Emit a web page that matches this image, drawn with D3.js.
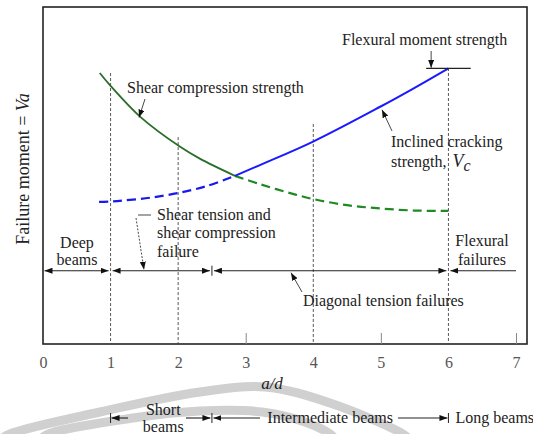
<!DOCTYPE html>
<html><head><meta charset="utf-8">
<script src="https://cdn.jsdelivr.net/npm/d3@7"></script>
<style>
body{margin:0;background:#fff}
svg{display:block}
text{font-family:"Liberation Serif","Times New Roman",serif;fill:#222}
</style>
</head><body>
<svg id="c" width="533" height="434"></svg>
<script>
// ---------- data ----------
const xTicks = [0, 1, 2, 3, 4, 5, 6, 7];
const minorTicks = [3, 5, 7];
// Shear compression strength (solid green)
const shearCompAD = [0.84, 1.0, 1.44, 2.03, 2.32, 2.84];
const shearCompV  = [80.4, 76.6, 67.4, 58.5, 55.0, 49.9];
// Shear compression strength continued (dashed green)
const shearCompDashAD = [2.84, 3.2, 3.6, 4.0, 4.5, 5.0, 5.5, 6.0];
const shearCompDashV  = [49.9, 47.5, 45.1, 43.0, 41.2, 40.2, 39.6, 39.5];
// Inclined cracking strength (dashed blue, then solid blue)
const crackDashAD = [0.83, 1.0, 1.2, 1.58, 2.0, 2.43, 2.84];
const crackDashV  = [42.2, 42.3, 42.6, 43.4, 44.8, 46.9, 49.9];
const crackAD = [2.84, 3.21, 3.99, 4.99, 5.48, 6.0];
const crackV  = [49.9, 53.1, 60.0, 70.4, 75.8, 81.8];
// Flexural moment strength level
const flexLevel = 81.8;
const flexRange = [5.67, 6.33];
// vertical guide lines
const guideAD  = [1, 2, 4, 6];
const guideTop = [80.4, 61.4, 65.3, 81.9];
// failure zones
const zoneBounds = [0, 1, 2.5, 6, 7];
const zoneLevel = 21.75;
// beam classes
const beamBounds = [1, 2.5, 6];

// ---------- scales ----------
const x = d3.scaleLinear().domain([0, 7]).range([43, 516]);
const y = d3.scaleLinear().domain([0, 100]).range([344, 7]);

const svg = d3.select("#c");
const defs = svg.append("defs");
defs.append("marker").attr("id", "ah")
  .attr("viewBox", "0 0 10 10").attr("refX", 10).attr("refY", 5)
  .attr("markerWidth", 8).attr("markerHeight", 6)
  .attr("markerUnits", "userSpaceOnUse").attr("preserveAspectRatio", "none")
  .attr("orient", "auto-start-reverse")
  .append("path").attr("d", "M0,0L10,5L0,10z").attr("fill", "#111");

// ---------- background watermark arcs ----------
const arcLine = d3.line().curve(d3.curveCatmullRom);
svg.append("path").attr("d", arcLine([[0,440],[10,434],[100,412],[200,392],[265,387],[330,403],[403,434],[410,440]]))
  .attr("fill", "none").attr("stroke", "#d0d0d0").attr("stroke-width", 9);
svg.append("path").attr("d", arcLine([[40,440],[48,434],[133,418],[200,411],[262,412],[305,422],[330,434],[336,440]]))
  .attr("fill", "none").attr("stroke", "#d0d0d0").attr("stroke-width", 9);

// ---------- frame ----------
svg.append("rect").attr("x", x(0)).attr("y", y(100))
  .attr("width", 527 - x(0)).attr("height", y(0) - y(100))
  .attr("fill", "none").attr("stroke", "#222").attr("stroke-width", 1.6);

// ---------- axis ----------
const ax = svg.append("g").attr("transform", `translate(0,${y(0)})`)
  .call(d3.axisBottom(x).tickValues(xTicks).tickSize(0).tickPadding(12.6).tickFormat(d3.format("d")));
ax.select(".domain").remove();
ax.selectAll("text").attr("font-size", 16).style("fill", "#555")
  .attr("font-family", "Liberation Serif, serif");

const minor = svg.append("g").attr("transform", `translate(0,${y(0)})`)
  .call(d3.axisTop(x).tickValues(minorTicks).tickSize(11).tickFormat(""));
minor.select(".domain").remove();
minor.selectAll("line").attr("stroke", "#888").attr("stroke-width", 1);

svg.append("text").attr("x", 272).attr("y", 389).attr("text-anchor", "middle")
  .attr("font-size", 17).attr("font-style", "italic").text("a/d");

svg.append("text").attr("transform", "translate(29,169) rotate(-90)")
  .attr("text-anchor", "middle").attr("font-size", 18)
  .call(t => {
    t.append("tspan").text("Failure moment = ");
    t.append("tspan").attr("font-style", "italic").text("Va");
  });

// ---------- guide lines ----------
svg.selectAll("line.guide").data(guideAD).join("line").attr("class", "guide")
  .attr("x1", d => x(d)).attr("x2", d => x(d))
  .attr("y1", (d, i) => y(guideTop[i])).attr("y2", y(0))
  .attr("stroke", "#444").attr("stroke-width", 0.9).attr("stroke-dasharray", "3,2");

// ---------- curves ----------
const line = d3.line().x(d => x(d[0])).y(d => y(d[1])).curve(d3.curveCatmullRom.alpha(0.5));
const zip = (a, b) => a.map((v, i) => [v, b[i]]);

svg.append("path").attr("d", line(zip(crackDashAD, crackDashV)))
  .attr("fill", "none").attr("stroke", "#1818f0").attr("stroke-width", 2.2).attr("stroke-dasharray", "9,5");
svg.append("path").attr("d", line(zip(shearCompDashAD, shearCompDashV)))
  .attr("fill", "none").attr("stroke", "#1f8a24").attr("stroke-width", 2.2).attr("stroke-dasharray", "9,5");
svg.append("path").attr("d", line(zip(shearCompAD, shearCompV)))
  .attr("fill", "none").attr("stroke", "#2a6e2a").attr("stroke-width", 1.8);
svg.append("path").attr("d", line(zip(crackAD, crackV)))
  .attr("fill", "none").attr("stroke", "#1a1aff").attr("stroke-width", 2);

// flexural moment strength level
svg.append("line").attr("x1", x(flexRange[0])).attr("x2", x(flexRange[1]))
  .attr("y1", y(flexLevel)).attr("y2", y(flexLevel))
  .attr("stroke", "#222").attr("stroke-width", 1.3);

// ---------- annotations ----------
function arrow(x1, y1, x2, y2, dashed) {
  const l = svg.append("line").attr("x1", x1).attr("y1", y1).attr("x2", x2).attr("y2", y2)
    .attr("stroke", "#333").attr("stroke-width", 0.9).attr("marker-end", "url(#ah)");
  if (dashed) l.attr("stroke-dasharray", "2,1.5");
}
function label(tx, ty, s, anchor) {
  return svg.append("text").attr("x", tx).attr("y", ty).attr("font-size", 16)
    .attr("text-anchor", anchor || "start").text(s);
}

label(342, 45, "Flexural moment strength");
arrow(x(flexRange[0]) + 5, 51, x(flexRange[0]) + 5, y(flexLevel) - 0.5);

label(127, 93, "Shear compression strength");
arrow(145, 99, 139, y(67.5) + 1);

label(391, 147, "Inclined cracking");
svg.append("text").attr("x", 391).attr("y", 167).attr("font-size", 16)
  .call(t => {
    t.append("tspan").text("strength, ");
    t.append("tspan").attr("font-style", "italic").attr("font-size", 18).attr("dx", 2).text("V");
    t.append("tspan").attr("font-style", "italic").attr("font-size", 16).attr("dy", 4).text("c");
  });
arrow(392, 131, 382, y(70.4) + 3);

// Zone arrows
const zy = y(zoneLevel);
zoneBounds.slice(0, -1).forEach((b, i) => {
  const e = zoneBounds[i + 1];
  const last = i === zoneBounds.length - 2;
  const l = svg.append("line")
    .attr("x1", x(b) + (i === 0 ? 1.5 : 2)).attr("x2", x(e) - (last ? 0 : 2))
    .attr("y1", zy).attr("y2", zy).attr("stroke", "#222").attr("stroke-width", 1.1)
    .attr("marker-start", "url(#ah)");
  if (!last) l.attr("marker-end", "url(#ah)");
});
svg.append("line").attr("x1", x(2.5)).attr("x2", x(2.5)).attr("y1", zy - 5).attr("y2", zy + 5)
  .attr("stroke", "#222").attr("stroke-width", 1);

svg.append("text").attr("x", 77).attr("font-size", 16).attr("text-anchor", "middle")
  .call(t => {
    t.append("tspan").attr("x", 77).attr("y", 248).text("Deep");
    t.append("tspan").attr("x", 77).attr("y", 265).text("beams");
  });
svg.append("text").attr("font-size", 16)
  .call(t => {
    t.append("tspan").attr("x", 157).attr("y", 220).text("Shear tension and");
    t.append("tspan").attr("x", 157).attr("y", 238).text("shear compression");
    t.append("tspan").attr("x", 157).attr("y", 257).text("failure");
  });
svg.append("line").attr("x1", 138).attr("x2", 151).attr("y1", 215).attr("y2", 215)
  .attr("stroke", "#333").attr("stroke-width", 0.9);
arrow(136, 218, 144, zy - 1, true);

svg.append("text").attr("font-size", 16).attr("text-anchor", "middle")
  .call(t => {
    t.append("tspan").attr("x", 482).attr("y", 246).text("Flexural");
    t.append("tspan").attr("x", 482).attr("y", 265).text("failures");
  });

label(303, 306, "Diagonal tension failures");
arrow(302, 292, 291, zy + 2);

// ---------- beam classes row ----------
const by = 418;
beamBounds.forEach(b => {
  svg.append("line").attr("x1", x(b)).attr("x2", x(b)).attr("y1", by - 5).attr("y2", by + 5)
    .attr("stroke", "#222").attr("stroke-width", 1);
});
function hseg(x1, x2, startArrow, endArrow) {
  const l = svg.append("line").attr("x1", x1).attr("x2", x2).attr("y1", by).attr("y2", by)
    .attr("stroke", "#222").attr("stroke-width", 1.1);
  if (startArrow) l.attr("marker-start", "url(#ah)");
  if (endArrow) l.attr("marker-end", "url(#ah)");
}
hseg(x(beamBounds[0]) + 1, 128, true, false);
hseg(186, x(beamBounds[1]) - 1.5, false, true);
hseg(x(beamBounds[1]) + 1.5, 260, true, false);
hseg(398, x(beamBounds[2]) - 1, false, true);

const shortX = (x(beamBounds[0]) + x(beamBounds[1])) / 2 + 2;
svg.append("text").attr("x", shortX).attr("y", 415)
  .attr("font-size", 16).attr("text-anchor", "middle").text("Short");
svg.append("text").attr("x", shortX).attr("y", 432)
  .attr("font-size", 16).attr("text-anchor", "middle").text("beams");
svg.append("text").attr("x", (x(beamBounds[1]) + x(beamBounds[2])) / 2).attr("y", 423)
  .attr("font-size", 16).attr("text-anchor", "middle").text("Intermediate beams");
svg.append("text").attr("x", x(beamBounds[2]) + 7).attr("y", 423)
  .attr("font-size", 16).text("Long beams");
</script>
</body></html>
